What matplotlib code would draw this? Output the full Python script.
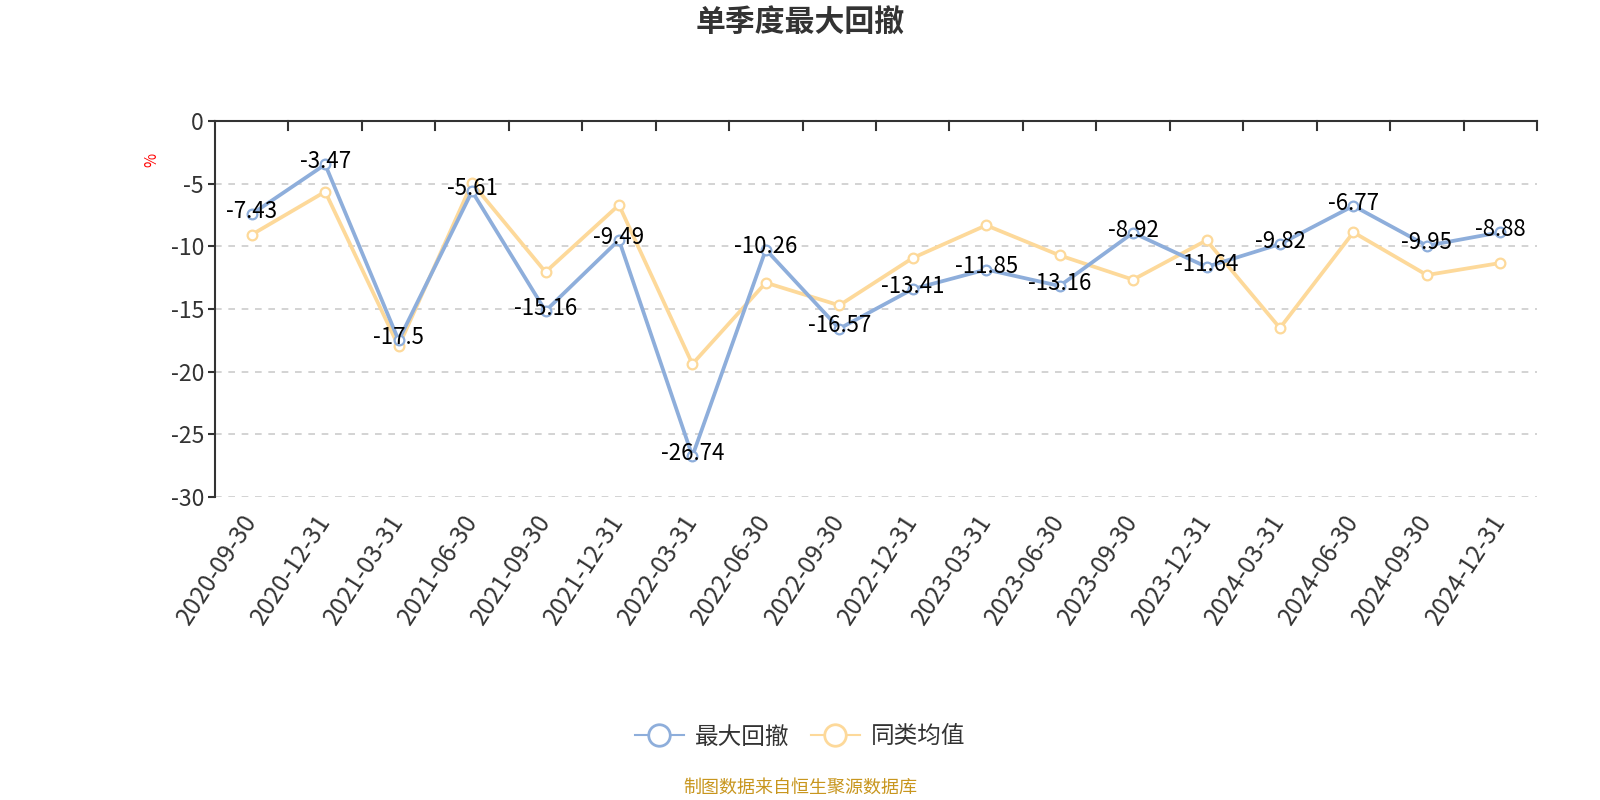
import matplotlib
matplotlib.use("Agg")
import matplotlib.pyplot as plt
from matplotlib.lines import Line2D

plt.rcParams["font.family"] = ["Noto Sans CJK SC", "DejaVu Sans"]

dates = ["2020-09-30", "2020-12-31", "2021-03-31", "2021-06-30", "2021-09-30", "2021-12-31",
         "2022-03-31", "2022-06-30", "2022-09-30", "2022-12-31", "2023-03-31", "2023-06-30",
         "2023-09-30", "2023-12-31", "2024-03-31", "2024-06-30", "2024-09-30", "2024-12-31"]
max_dd = [-7.43, -3.47, -17.5, -5.61, -15.16, -9.49, -26.74, -10.26, -16.57,
          -13.41, -11.85, -13.16, -8.92, -11.64, -9.82, -6.77, -9.95, -8.88]
peer_avg = [-9.07, -5.64, -17.98, -4.95, -12.05, -6.70, -19.39, -12.90, -14.71,
            -10.93, -8.32, -10.72, -12.66, -9.52, -16.52, -8.88, -12.29, -11.33]
yticks = [0, -5, -10, -15, -20, -25, -30]

BLUE = "#8eaedb"
YELLOW = "#fdd99a"
W, H = 1600, 800

fig = plt.figure(figsize=(16, 8), dpi=100)
ax = fig.add_axes([215 / W, 1 - 497 / H, (1537 - 215) / W, (497 - 121) / H])

x = list(range(len(dates)))
for ys, c, name in [(peer_avg, YELLOW, "同类均值"), (max_dd, BLUE, "最大回撤")]:
    ax.plot(x, ys, color=c, lw=2.7, marker="o", ms=7, mfc="white", mec=c, mew=1.6,
            label=name, zorder=3)

for xi, v in zip(x, max_dd):
    ax.annotate(f"{v:g}", (xi, v), xytext=(0, 2), textcoords="offset points",
                ha="center", va="center", fontsize=16, color="black", zorder=5)

ax.set_xlim(-0.5, len(dates) - 0.5)
ax.set_ylim(-30, 0)
ax.set_yticks(yticks)
ax.set_yticklabels([str(t) for t in yticks], fontsize=16.5, color="#333333")
ax.tick_params(axis="y", length=5, width=1.5, color="#333333", pad=3)
for t in yticks[1:]:
    ax.axhline(t, color="#cccccc", lw=1.2, ls=(0, (4, 4)), zorder=1)

# category boundary ticks hanging from the zero line (top)
for b in range(1, len(dates) + 1):
    ax.plot([b - 0.5, b - 0.5], [0, -0.7], color="#333333", lw=1.5, clip_on=False, zorder=4)

ax.set_xticks(x)
ax.set_xticklabels(dates, rotation=57, ha="right", va="center", rotation_mode="anchor",
                   fontsize=17.5, color="#333333")
ax.tick_params(axis="x", length=0, pad=14)

for s in ["right", "bottom"]:
    ax.spines[s].set_visible(False)
for s in ["top", "left"]:
    ax.spines[s].set_color("#333333")
    ax.spines[s].set_linewidth(1.5)

fig.text(152 / W, 1 - 160 / H, "%", rotation=90, color="red",
         fontsize=11, ha="center", va="center")

fig.text(0.5, 1 - 23 / H, "单季度最大回撤", ha="center", va="center",
         fontsize=21.5, fontweight="bold", color="#333333")

handles = [Line2D([], [], color=c, lw=1.5, marker="o", ms=15.5, mfc="white", mec=c, mew=2)
           for c in (BLUE, YELLOW)]
fig.legend(handles, ["最大回撤", "同类均值"], loc="center", bbox_to_anchor=(0.5, 1 - 737 / H),
           ncol=2, frameon=False, fontsize=17, handlelength=2.1, columnspacing=0.9,
           handletextpad=0.45, labelcolor="#333333")

fig.text(0.5, 1 - 788 / H, "制图数据来自恒生聚源数据库", ha="center", va="center",
         fontsize=13, color="#c8961e")

fig.savefig("out.png", dpi=100)
